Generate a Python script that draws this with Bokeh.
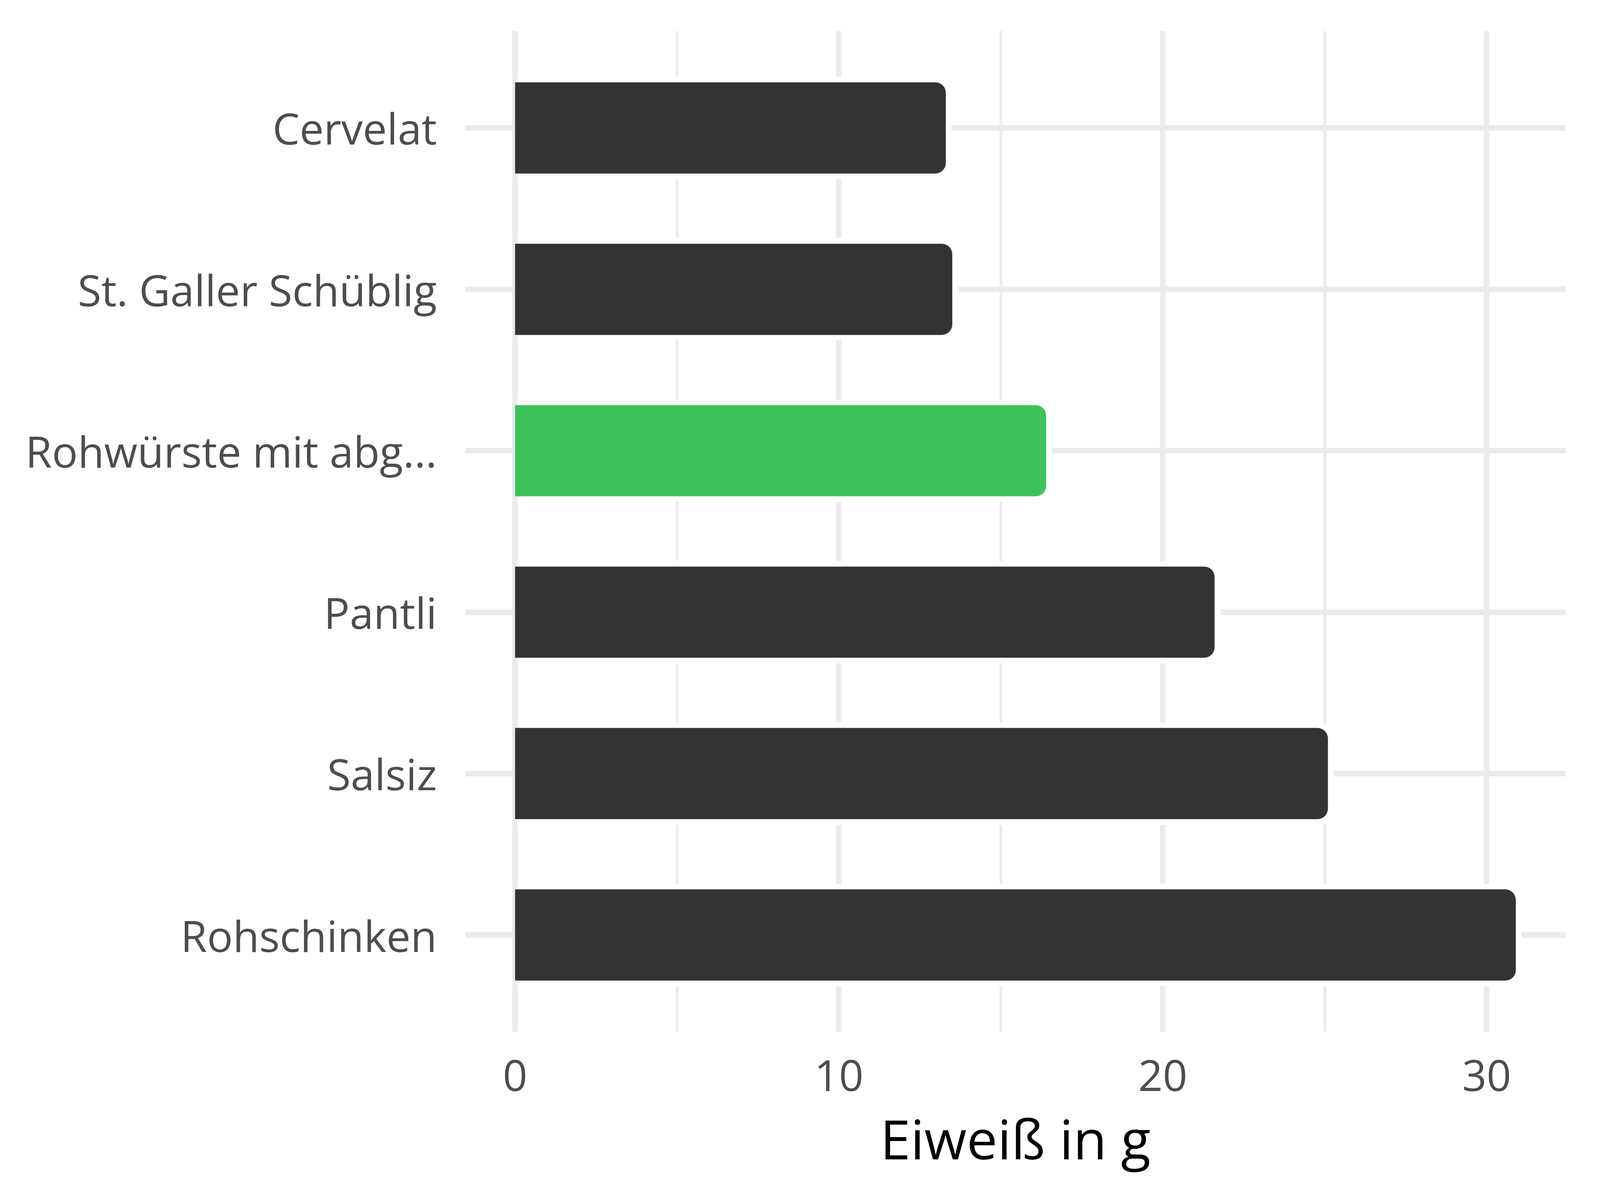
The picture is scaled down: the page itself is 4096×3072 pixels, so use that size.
from bokeh.plotting import figure
from bokeh.models import Range1d, FactorRange, SingleIntervalTicker, ColumnDataSource
from bokeh.embed import file_html
from bokeh.resources import INLINE

categories = ["Cervelat", "St. Galler Schüblig", "Rohwürste mit abg...", "Pantli", "Salsiz", "Rohschinken"]
values = [13.3, 13.5, 16.4, 21.6, 25.1, 30.9]
colors = ["#333333", "#333333", "#3EC35A", "#333333", "#333333", "#333333"]
x_title = "Eiweiß in g"

FONT = "Open Sans"
GRID = "#EBEBEB"
BAR_H = 0.565
GAP_X = 0.175
GAP_Y = 0.035

factors = list(reversed(categories))
vmax = max(values)
pad = 0.05 * vmax

src = ColumnDataSource(dict(
    cat=categories,
    val=values,
    color=colors,
    halo=[v + GAP_X for v in values],
))

p = figure(
    width=4080, height=3056,
    y_range=FactorRange(factors=factors, range_padding=0.1, range_padding_units="absolute"),
    x_range=Range1d(-pad, vmax + pad),
    output_backend="svg", toolbar_location=None,
    min_border_left=1190, min_border_right=72, min_border_top=79, min_border_bottom=415,
)
p.outline_line_color = None
p.background_fill_color = "white"
p.border_fill_color = "white"

# white halo behind bars (interrupts grid lines)
p.hbar(y="cat", left=0, right="halo", height=BAR_H + 2 * GAP_Y, source=src,
       fill_color="white", line_color=None, border_radius=(0, 36, 36, 0))
# x = 0 grid line stays continuous
p.vspan(x=[0], line_color=GRID, line_width=14)
# bars
p.hbar(y="cat", left=0, right="val", height=BAR_H, source=src,
       fill_color="color", line_color=None, border_radius=(0, 27, 27, 0))

p.xaxis.ticker = SingleIntervalTicker(interval=10, num_minor_ticks=2)
p.xgrid.grid_line_color = GRID
p.xgrid.grid_line_width = 14
p.xgrid.minor_grid_line_color = GRID
p.xgrid.minor_grid_line_width = 7
p.ygrid.grid_line_color = GRID
p.ygrid.grid_line_width = 14

for ax in (p.xaxis, p.yaxis):
    ax.axis_line_color = None
    ax.major_tick_line_color = None
    ax.minor_tick_line_color = None
    ax.major_tick_out = 0
    ax.major_tick_in = 0
    ax.major_label_text_font = FONT
    ax.major_label_text_font_size = "110px"
    ax.major_label_text_color = "#4D4D4D"

p.yaxis.major_label_standoff = 72
p.xaxis.major_label_standoff = 68
p.xaxis.axis_label = x_title
p.xaxis.axis_label_text_font = FONT
p.xaxis.axis_label_text_font_size = "140px"
p.xaxis.axis_label_text_font_style = "normal"
p.xaxis.axis_label_text_color = "black"
p.xaxis.axis_label_standoff = 22

open("out.html", "w").write(file_html(p, INLINE))
